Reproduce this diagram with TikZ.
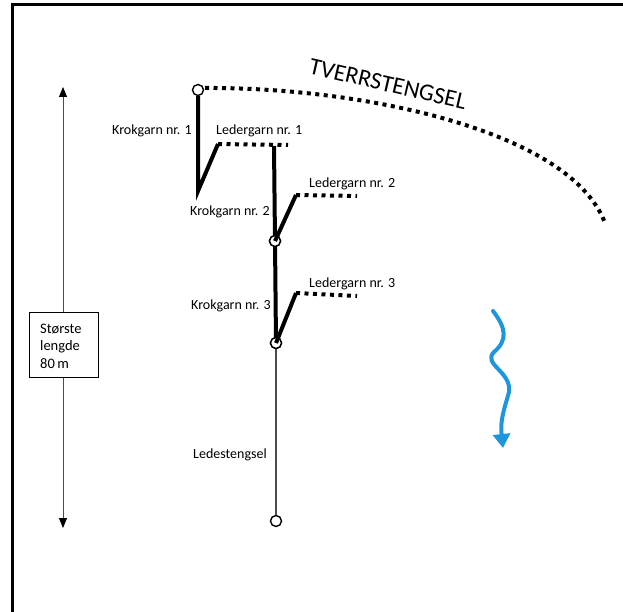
\documentclass[tikz,border=0pt]{standalone}
\usepackage{fontspec}
\setmainfont{Carlito}
\usetikzlibrary{arrows.meta}
\definecolor{flowblue}{RGB}{30,150,220}
\tikzset{
  lbl/.style={font=\fontsize{14}{16}\selectfont, inner sep=0pt},
  thickline/.style={line width=4pt},
  dotline/.style={line width=4pt, dash pattern=on 4pt off 4.5pt},
  ring/.style={circle, draw, line width=1.4pt, fill=white, minimum size=11pt, inner sep=0pt},
  thinline/.style={draw=gray!60!black, line width=1.3pt},
}
\begin{document}
\begin{tikzpicture}[x=1pt,y=-1pt]
\useasboundingbox (0,0) rectangle (623,612);
% frame
\draw[line width=3pt] (12,612) -- (12,5) -- (623,5);

% length arrow
\coordinate (at) at (63,87);
\coordinate (ab) at (63,528);
\draw[gray!60!black, line width=1pt, {Triangle[length=10pt,width=8pt,black]}-{Triangle[length=10pt,width=8pt,black]}] (at) -- (ab);
\node[draw, line width=1.4pt, fill=white, minimum width=69pt, minimum height=65pt, inner sep=0pt] (box) at (64,345) {};
\node[lbl, anchor=west, align=left, font=\fontsize{14.5}{17.5}\selectfont] (boxtxt) at (40,346) {Største\\lengde\\80\,m};

% tverrstengsel
\coordinate (t1) at (205,88);
\coordinate (t2) at (605,223);
\draw[dotline] (t1) .. controls (360,87) and (570,130) .. (t2);
\node[font=\fontsize{24}{26}\selectfont, rotate=-13, inner sep=0pt] (tv) at (388,84) {TVERRSTENGSEL};

% krokgarn 1
\node[ring] (c1) at (198,90) {};
\coordinate (k1b) at (198,191);
\coordinate (k1t) at (218,144);
\coordinate (l1e) at (288,145);
\draw[thickline, line join=miter] (c1.south) -- (k1b) -- (k1t);
\draw[dotline] (k1t) -- (l1e);
\node[lbl, anchor=east] (kg1) at (192,131) {Krokgarn nr. 1};
\node[lbl, anchor=west] (lg1) at (216,131) {Ledergarn nr. 1};

% main line
\coordinate (m0) at (274,146);
\node[ring] (c2) at (275,241) {};
\node[ring] (c3) at (276,343) {};
\node[ring] (c4) at (276,521) {};
\draw[thickline] (m0) -- (c2.center) -- (c3.center);
\draw[thinline] (c3.south) -- (c4.north);
\node[ring] at (275,241) {};
\node[ring] at (276,343) {};

% krokgarn 2
\coordinate (k2t) at (296,195);
\coordinate (l2e) at (357,196);
\draw[thickline] (c2.center) -- (k2t);
\draw[dotline] (k2t) -- (l2e);
\node[lbl, anchor=east] (kg2) at (270,212) {Krokgarn nr. 2};
\node[lbl, anchor=west] (lg2) at (309,184) {Ledergarn nr. 2};

% krokgarn 3
\coordinate (k3t) at (296,293);
\coordinate (l3e) at (357,296);
\draw[thickline] (c3.center) -- (k3t);
\draw[dotline] (k3t) -- (l3e);
\node[lbl, anchor=east] (kg3) at (271,306) {Krokgarn nr. 3};
\node[lbl, anchor=west] (lg3) at (309,284) {Ledergarn nr. 3};

% ledestengsel
\node[lbl] (ls) at (230,455) {Ledestengsel};

% current arrow
\coordinate (w0) at (493,311);
\coordinate (w1) at (494,352);
\coordinate (w2) at (509,392);
\coordinate (w3) at (503,448);
\draw[flowblue, line width=4pt, line cap=round, -{Triangle[length=14pt,width=17pt]}]
  (w0) .. controls (506,328) and (508,340) .. (w1)
       .. controls (482,364) and (512,372) .. (w2)
       .. controls (504,410) and (500,420) .. (w3);
\end{tikzpicture}
\end{document}
